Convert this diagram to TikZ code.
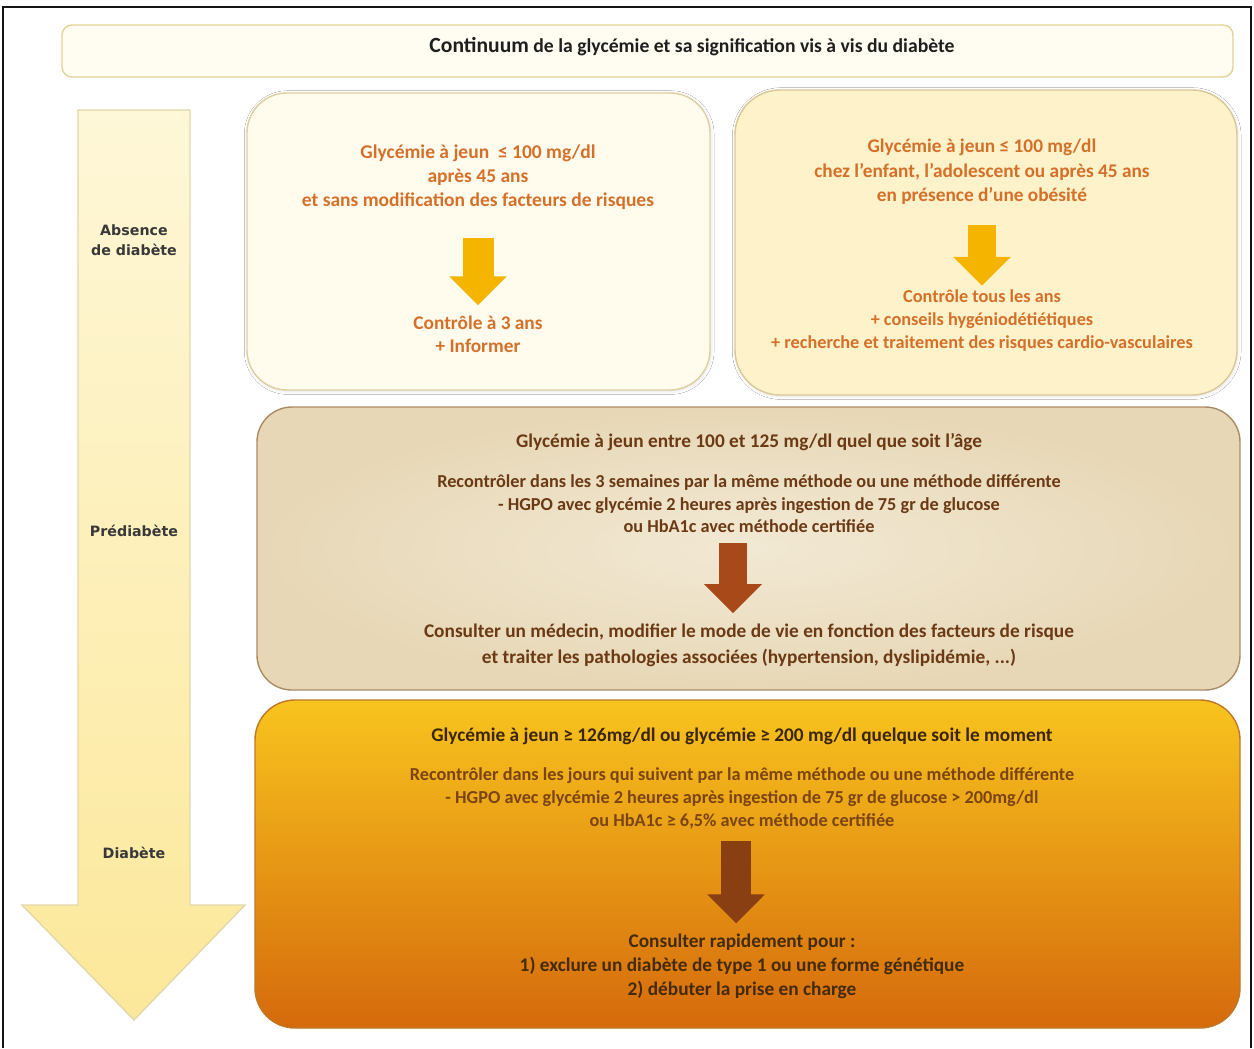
\documentclass[tikz,border=0pt]{standalone}
\usepackage{fontspec}
\setmainfont{Carlito}
\newfontfamily\labelfont{DejaVu Sans}
\usepackage{xcolor}
\usepackage{tikz}
\usetikzlibrary{arrows.meta,positioning,shadows.blur}
\definecolor{framegray}{RGB}{20,20,20}
\definecolor{titlefill}{RGB}{255,253,242}
\definecolor{titleedge}{RGB}{228,210,150}
\definecolor{creamfill}{RGB}{255,252,238}
\definecolor{creamedge}{RGB}{222,206,160}
\definecolor{paleyellow}{RGB}{254,242,202}
\definecolor{paleedge}{RGB}{218,200,150}
\definecolor{parchlight}{RGB}{242,233,212}
\definecolor{parchdark}{RGB}{231,215,182}
\definecolor{parchedge}{RGB}{170,140,100}
\definecolor{goldtop}{RGB}{248,196,30}
\definecolor{goldmid}{RGB}{240,166,18}
\definecolor{goldbottom}{RGB}{213,106,12}
\definecolor{goldedge}{RGB}{190,120,40}
\definecolor{orangetext}{RGB}{212,112,42}
\definecolor{parchtext}{RGB}{107,58,20}
\definecolor{darktitle}{RGB}{58,38,8}
\definecolor{goldtext}{RGB}{123,69,18}
\definecolor{arrowyellow}{RGB}{244,180,0}
\definecolor{arrowrust}{RGB}{168,73,26}
\definecolor{arrowbrown}{RGB}{138,63,18}
\definecolor{bigtop}{RGB}{254,247,216}
\definecolor{bigbottom}{RGB}{252,232,154}
\definecolor{bigedge}{RGB}{226,216,170}
\tikzset{
  frameline/.style={line width=1.2pt,draw=framegray},
  titlebox/.style={draw=titleedge,fill=titlefill,line width=0.8pt,rounded corners=0.2cm},
  creambox/.style={draw=creamedge,fill=creamfill,line width=0.8pt,rounded corners=0.8cm,
    blur shadow={shadow xshift=0.4pt,shadow yshift=-0.6pt,shadow blur steps=4,shadow opacity=12}},
  yellowbox/.style={draw=paleedge,fill=paleyellow,line width=0.8pt,rounded corners=0.9cm,
    blur shadow={shadow xshift=0.4pt,shadow yshift=-0.6pt,shadow blur steps=4,shadow opacity=12}},
  parchbox/.style={draw=parchedge,inner color=parchlight,outer color=parchdark,line width=0.8pt,rounded corners=0.7cm},
  goldbox/.style={draw=goldedge,top color=goldtop,middle color=goldmid,bottom color=goldbottom,line width=0.8pt,rounded corners=0.8cm},
  bigarrow/.style={draw=bigedge,top color=bigtop,bottom color=bigbottom,line width=0.8pt},
  titletext/.style={font=\fontsize{11.2}{13}\selectfont\bfseries,text=black!88,inner sep=0pt},
  stagelabel/.style={font=\labelfont\fontsize{8.1}{11.5}\selectfont\bfseries,text=black!78,align=center,inner sep=0pt},
  boxtext/.style={align=center,inner sep=0pt},
  fatarrow/.style={line width=#1,-{Triangle[width=1.12cm,length=0.58cm]}}
}
\begin{document}
\begin{tikzpicture}[x=0.02cm,y=-0.02cm]
  \useasboundingbox (0,0) rectangle (1254,1048);
  \fill[white] (0,0) rectangle (1254,1048);
  \draw[frameline] (3,1048) -- (3,7) -- (1251,7) -- (1251,1048);

  % title
  \draw[titlebox] (62,25) rectangle (1233,77);
  \node[titletext] (title) at (692,47) {{\fontsize{12.3}{13}\selectfont Continuum} de la glycémie et sa signification vis à vis du diabète};

  % left arrow
  \shadedraw[bigarrow] (78,110) -- (190,110) -- (190,905) -- (245,905) -- (134,1020) -- (22,905) -- (78,905) -- cycle;
  \node[stagelabel] (absence) at (134,240) {Absence\\de diabète};
  \node[stagelabel] (prediab) at (134,531) {Prédiabète};
  \node[stagelabel] (diab) at (134,853) {Diabète};

  % absence de diabete
  \draw[creambox] (247,93) rectangle (710,390);
  \node[boxtext,text=orangetext,font=\fontsize{11.1}{13.6}\selectfont\bfseries] (cond1) at (478,177) {Glycémie à jeun \ ≤ 100 mg/dl\\après 45 ans\\et sans modification des facteurs de risques};
  \node[boxtext,text=orangetext,font=\fontsize{11}{13.1}\selectfont\bfseries] (act1) at (478,334) {Contrôle à 3 ans\\+ Informer};
  \draw[fatarrow=0.62cm,draw=arrowyellow,shorten <=0.56cm,shorten >=0.2cm] (cond1) -- (act1);

  \draw[yellowbox] (735,90) rectangle (1237,395);
  \node[boxtext,text=orangetext,font=\fontsize{11}{13.9}\selectfont\bfseries] (cond2) at (982,172) {Glycémie à jeun ≤ 100 mg/dl\\chez l'enfant, l'adolescent ou après 45 ans\\en présence d'une obésité};
  \node[boxtext,text=orangetext,font=\fontsize{10.4}{13.1}\selectfont\bfseries] (act2) at (982,321) {Contrôle tous les ans\\+ conseils hygéniodétiétiques\\+ recherche et traitement des risques cardio-vasculaires};
  \draw[fatarrow=0.56cm,draw=arrowyellow,shorten <=0.4cm,shorten >=0.08cm] (cond2) -- (act2);

  % prediabete
  \shadedraw[parchbox] (257,407) rectangle (1240,690);
  \node[boxtext,text=parchtext,font=\fontsize{11}{13}\selectfont\bfseries] (ptitle) at (749,442) {Glycémie à jeun entre 100 et 125 mg/dl quel que soit l'âge};
  \node[boxtext,text=parchtext,font=\fontsize{10.4}{12.8}\selectfont\bfseries] (cond3) at (749,504) {Recontrôler dans les 3 semaines par la même méthode ou une méthode différente\\- HGPO avec glycémie 2 heures après ingestion de 75 gr de glucose\\ou HbA1c avec méthode certifiée};
  \node[boxtext,text=parchtext,font=\fontsize{11}{14.8}\selectfont\bfseries] (act3) at (749,645) {Consulter un médecin, modifier le mode de vie en fonction des facteurs de risque\\et traiter les pathologies associées (hypertension, dyslipidémie, ...)};
  \draw[fatarrow=0.56cm,draw=arrowrust,shorten <=0.2cm,shorten >=0.2cm] ([xshift=-0.32cm]cond3.south) -- ([xshift=-0.32cm]act3.north);

  % diabete
  \shadedraw[goldbox] (255,700) rectangle (1240,1028);
  \node[boxtext,text=darktitle,font=\fontsize{11}{13}\selectfont\bfseries] (dtitle) at (742,736) {Glycémie à jeun ≥ 126mg/dl ou glycémie ≥ 200 mg/dl quelque soit le moment};
  \node[boxtext,text=goldtext,font=\fontsize{10.4}{13.1}\selectfont\bfseries] (cond4) at (742,798) {Recontrôler dans les jours qui suivent par la même méthode ou une méthode différente\\- HGPO avec glycémie 2 heures après ingestion de 75 gr de glucose > 200mg/dl\\ou HbA1c ≥ 6,5\% avec méthode certifiée};
  \node[boxtext,text=darktitle!85!goldtext,font=\fontsize{11}{13.6}\selectfont\bfseries] (act4) at (742,966) {Consulter rapidement pour :\\1) exclure un diabète de type 1 ou une forme génétique\\2) débuter la prise en charge};
  \draw[fatarrow=0.6cm,draw=arrowbrown,shorten <=0.24cm,shorten >=0.2cm] ([xshift=-0.12cm]cond4.south) -- ([xshift=-0.12cm]act4.north);
\end{tikzpicture}
\end{document}
